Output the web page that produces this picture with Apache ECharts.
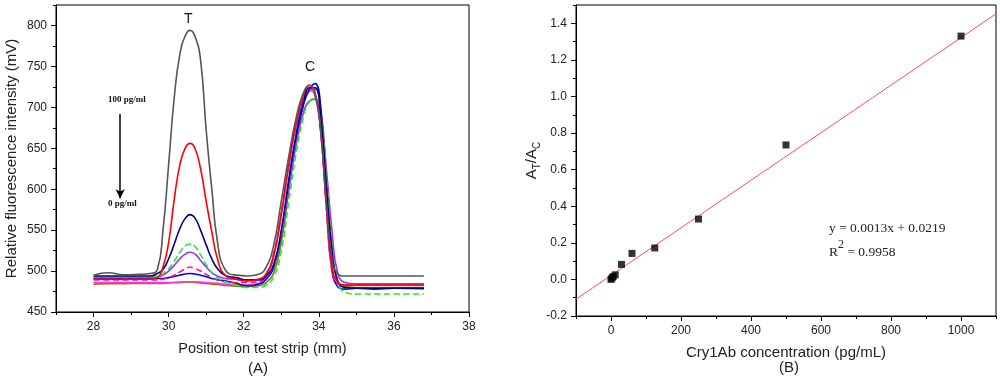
<!DOCTYPE html>
<html>
<head>
<meta charset="utf-8">
<script src="https://cdn.jsdelivr.net/npm/echarts@6/dist/echarts.min.js"></script>
<style>
html,body{margin:0;padding:0;background:#fff;}
#chart{width:1000px;height:382px;}
</style>
</head>
<body>
<div id="chart"></div>
<script>
// ---------- Panel A data ----------
var positions = [28, 28.4, 28.8, 29.2, 29.5, 29.7, 29.85, 30.0, 30.15, 30.3, 30.45, 30.57, 30.7, 30.85, 31.0, 31.15, 31.3, 31.5, 31.8, 32.1, 32.4, 32.6, 32.8, 33.0, 33.2, 33.4, 33.6, 33.75, 33.9, 34.05, 34.2, 34.35, 34.5, 34.7, 35.0, 35.5, 36.0, 36.8];
var grayY   = [495, 498, 495.5, 496, 497, 502, 550, 630, 712, 765, 788, 794, 787, 758, 672, 600, 536, 502, 495, 494, 496, 505, 532, 585, 640, 688, 719, 727, 717, 670, 585, 515, 497, 494, 494, 494, 494, 494];
var redY    = [490, 490, 490, 490, 490, 492, 505, 535, 588, 630, 651, 656, 650, 625, 585, 548, 515, 495, 490, 488, 490, 497, 520, 570, 630, 682, 716, 727, 718, 672, 580, 505, 487, 483, 483, 483, 483, 483];
var navyY   = [494, 494, 494, 494, 494, 497, 502, 515, 533, 552, 565, 569, 565, 550, 532, 515, 503, 495, 492, 489, 489, 494, 508, 550, 612, 668, 708, 724, 724, 690, 605, 525, 488, 480, 479, 479, 479, 479];
var greenY  = [493, 493, 493, 493, 493, 494, 497, 503, 512, 523, 531, 533, 530, 520, 508, 498, 492, 487, 483, 480, 480, 483, 493, 525, 585, 645, 690, 707, 711, 690, 615, 530, 488, 474, 472, 472, 472, 472];
var purpleY = [492, 492, 492, 492, 492, 493, 495, 500, 507, 515, 521, 523, 521, 513, 505, 498, 494, 491, 490, 489, 490, 494, 508, 545, 600, 655, 695, 708, 710, 690, 625, 550, 498, 486, 484.5, 484.5, 484.5, 484.5];
var magentaY= [489, 489, 489, 489, 489, 489, 490, 492, 495, 499, 503, 505, 503, 500, 496, 492, 489, 487, 486, 486, 487, 496, 522, 572, 632, 680, 713, 724, 716, 672, 580, 500, 485, 483, 483, 483, 483, 483];
var blueY   = [491, 491, 491, 491, 491, 491, 491, 492, 493.5, 495, 496.5, 497, 496.5, 495, 493, 491, 489.5, 488, 485, 482, 484, 490, 505, 545, 605, 662, 705, 722, 729, 700, 600, 505, 481, 478, 479, 478, 479, 478.5];
var pinkY   = [486, 486, 486, 486, 486, 486, 486, 486, 486, 486.5, 487, 487, 487, 486.5, 486, 485.5, 485, 484, 483, 483, 485, 493, 518, 568, 628, 678, 710, 721, 714, 670, 578, 500, 485, 483, 483, 483, 483, 483];
var oliveY  = [484, 484.5, 484.5, 485, 485, 485, 485, 485.5, 486, 486, 486.5, 486.5, 486, 485.5, 485, 484, 483.5, 482.5, 481.5, 481, 482, 486, 498, 535, 598, 660, 705, 720, 722, 700, 620, 530, 488, 481, 480, 480, 480, 480];
var xTicksA = [28, 30, 32, 34, 36, 38];
var yTicksA = [450, 500, 550, 600, 650, 700, 750, 800];
var arrowX = [28.71, 28.71];
var arrowY = [692, 589];

// ---------- Panel B data ----------
var concentrations = [0, 3, 6, 12, 30, 60, 125, 250, 500, 1000];
var ratios = [0.0, 0.008, 0.015, 0.025, 0.082, 0.142, 0.172, 0.33, 0.735, 1.33];
var fitX = [-100, 1100];
var fitY = [-0.108, 1.452];
var xTicksB = [0, 200, 400, 600, 800, 1000];
var yTicksB = [-0.2, 0, 0.2, 0.4, 0.6, 0.8, 1.0, 1.2, 1.4];

function zip(xs, ys){ return xs.map(function(x,i){ return [x, ys[i]]; }); }

var sansFont = '"Liberation Sans", Arial, sans-serif';
var serifFont = '"Liberation Serif", "Times New Roman", serif';

var curveDefs = [
  {name:'olive', y: oliveY, color:'#808000', type:'solid'},
  {name:'pink', y: pinkY, color:'#ff33ee', type:'solid'},
  {name:'blue', y: blueY, color:'#0000ff', type:'solid'},
  {name:'magenta', y: magentaY, color:'#ff1493', type:'dashed'},
  {name:'purple', y: purpleY, color:'#9933ff', type:'solid'},
  {name:'green', y: greenY, color:'#22ee22', type:'dashed'},
  {name:'navy', y: navyY, color:'#000080', type:'solid'},
  {name:'red', y: redY, color:'#ff0000', type:'solid'},
  {name:'gray', y: grayY, color:'#555555', type:'solid'}
];

var series = curveDefs.map(function(c){
  return {
    type:'line', name:c.name, xAxisIndex:0, yAxisIndex:0,
    data: zip(positions, c.y), showSymbol:false, smooth:0.5,
    lineStyle:{color:c.color, width:1.6, type:c.type},
    itemStyle:{color:c.color}, z: 3
  };
});
series[series.length-1].markLine = {
  silent:true, symbol:['none','arrow'], symbolSize:[7,9],
  label:{show:false},
  lineStyle:{color:'#000', width:1.5, type:'solid'},
  data:[[{coord:[arrowX[0], arrowY[0]]},{coord:[arrowX[1], arrowY[1]]}]]
};
series.push({
  type:'line', name:'fit', xAxisIndex:2, yAxisIndex:2,
  data: zip(fitX, fitY), showSymbol:false,
  lineStyle:{color:'#ff5050', width:1}, z:2
});
series.push({
  type:'scatter', name:'points', xAxisIndex:2, yAxisIndex:2,
  data: zip(concentrations, ratios), symbol:'rect', symbolSize:7,
  itemStyle:{color:'#000'}, z:4
});

var axisLineStyle = {show:true, onZero:false, lineStyle:{color:'#000', width:1}};
var labelStyle = {fontSize:12, color:'#222', fontFamily:sansFont};

function mainAxis(opts){
  return Object.assign({
    type:'value', axisLine:axisLineStyle, splitLine:{show:false},
    nameLocation:'middle',
    nameTextStyle:{fontSize:15, color:'#222', fontFamily:sansFont}
  }, opts);
}
function minorAxis(opts){
  return Object.assign({
    type:'value', axisLine:{show:false, onZero:false}, splitLine:{show:false},
    axisLabel:{show:false},
    axisTick:{show:true, length:3, lineStyle:{color:'#000'}}
  }, opts);
}

var option = {
  animation:false,
  backgroundColor:'#fff',
  grid:[
    {left:56, top:5, width:413, height:307, show:true, borderColor:'#000', borderWidth:1, backgroundColor:'transparent'},
    {left:576, top:5, width:420, height:311, show:true, borderColor:'#000', borderWidth:1, backgroundColor:'transparent'}
  ],
  xAxis:[
    mainAxis({gridIndex:0, position:'bottom', min:27, max:38,
      name:'Position on test strip (mm)', nameGap:29,
      nameTextStyle:{fontSize:14.5, color:'#222', fontFamily:sansFont},
      axisTick:{show:true, length:5, customValues:xTicksA, lineStyle:{color:'#000'}},
      axisLabel:Object.assign({customValues:xTicksA, margin:9}, labelStyle)}),
    minorAxis({gridIndex:0, position:'bottom', min:27, max:38, interval:1}),
    mainAxis({gridIndex:1, position:'bottom', min:-100, max:1100,
      name:'Cry1Ab concentration (pg/mL)', nameGap:29,
      axisTick:{show:true, length:5, customValues:xTicksB, lineStyle:{color:'#000'}},
      axisLabel:Object.assign({customValues:xTicksB, margin:9,
        formatter:function(v){ return String(Math.round(v)); }}, labelStyle)}),
    minorAxis({gridIndex:1, position:'bottom', min:-100, max:1100, interval:100})
  ],
  yAxis:[
    mainAxis({gridIndex:0, position:'left', min:450, max:825,
      name:'Relative fluorescence intensity (mV)', nameGap:37,
      axisTick:{show:true, length:5, customValues:yTicksA, lineStyle:{color:'#000'}},
      axisLabel:Object.assign({customValues:yTicksA, margin:9}, labelStyle)}),
    minorAxis({gridIndex:0, position:'left', min:450, max:825, interval:25}),
    mainAxis({gridIndex:1, position:'left', min:-0.2, max:1.5,
      name:'{a|A}{s|T}{a|/A}{s|C}', nameGap:34,
      nameTextStyle:{color:'#222', fontFamily:sansFont,
        rich:{
          a:{fontSize:15, color:'#222', fontFamily:sansFont, lineHeight:18, verticalAlign:'top'},
          s:{fontSize:10, color:'#222', fontFamily:sansFont, lineHeight:8, verticalAlign:'bottom'}
        }},
      axisTick:{show:true, length:5, customValues:yTicksB, lineStyle:{color:'#000'}},
      axisLabel:Object.assign({customValues:yTicksB, margin:9,
        formatter:function(v){ return (Math.round(v*10)/10).toFixed(1); }}, labelStyle)}),
    minorAxis({gridIndex:1, position:'left', min:-0.2, max:1.5, interval:0.1})
  ],
  graphic:[
    {type:'text', left:184, top:12, style:{text:'T', fill:'#111', font:'14px '+sansFont}},
    {type:'text', left:305, top:60, style:{text:'C', fill:'#111', font:'14px '+sansFont}},
    {type:'text', left:108, top:95, style:{text:'100 pg/ml', fill:'#111', font:'bold 9px '+serifFont}},
    {type:'text', left:108, top:199, style:{text:'0 pg/ml', fill:'#111', font:'bold 9px '+serifFont}},
    {type:'text', left:248, top:361, style:{text:'(A)', fill:'#222', font:'15px '+sansFont}},
    {type:'text', left:779, top:360, style:{text:'(B)', fill:'#222', font:'15px '+sansFont}},
    {type:'text', left:829, top:221, style:{text:'y = 0.0013x + 0.0219', fill:'#222', font:'13.5px '+serifFont}},
    {type:'text', left:829, top:239, style:{
      text:'{n|R}{sup|2}{n| = 0.9958}',
      rich:{
        n:{fontSize:13.5, fontFamily:serifFont, fill:'#222', lineHeight:20, verticalAlign:'bottom'},
        sup:{fontSize:12, fontFamily:serifFont, fill:'#222', lineHeight:10, verticalAlign:'top'}
      }}}
  ],
  series:series
};

var chart = echarts.init(document.getElementById('chart'), null, {renderer:'canvas'});
chart.setOption(option);
</script>
</body>
</html>
